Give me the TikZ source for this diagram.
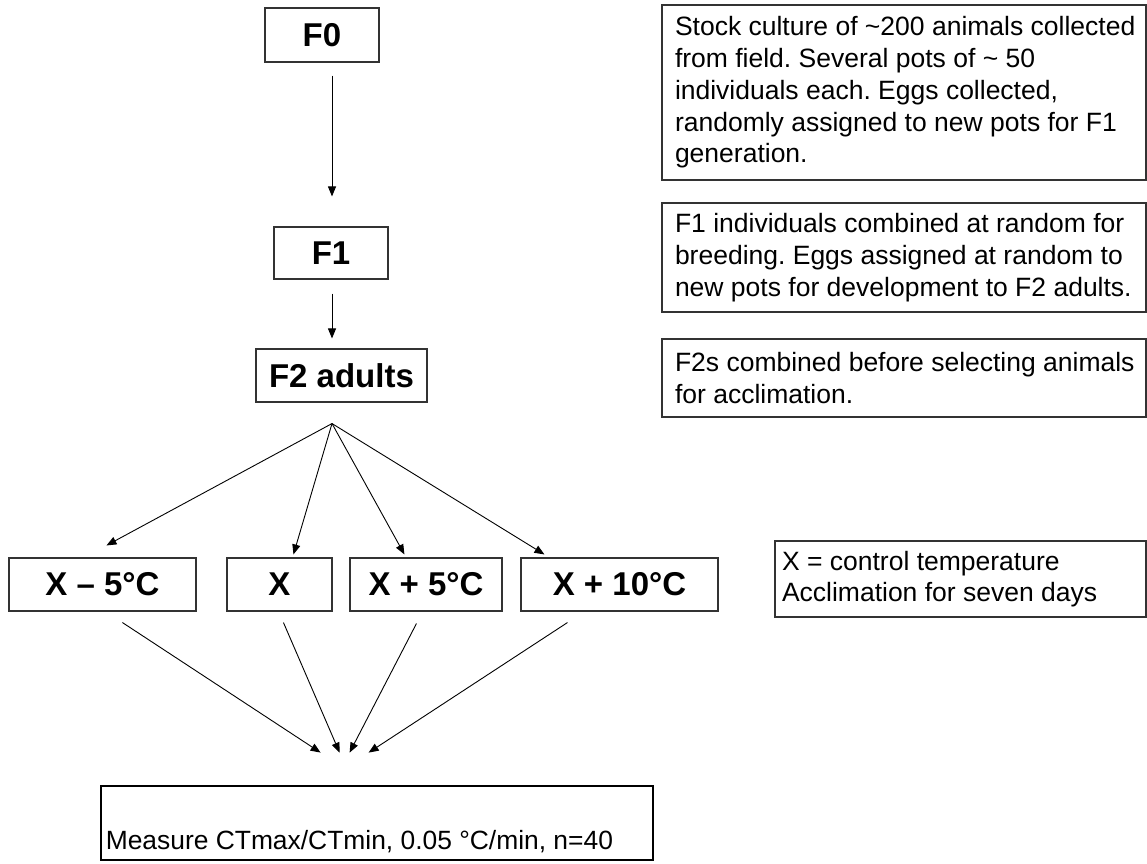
\documentclass[tikz,border=0pt]{standalone}
\usepackage{fontspec}
\setmainfont{Liberation Sans}
\usetikzlibrary{arrows.meta}
\frenchspacing
\tikzset{
  gen/.style={draw=black!80, line width=1.1pt, inner sep=0pt, font=\bfseries\fontsize{33}{38}\selectfont, minimum height=53pt},
  note/.style={draw=black!80, line width=1.1pt, inner sep=0pt, font=\fontsize{26.5}{31.7}\selectfont},
  arr/.style={line width=0.9pt, -{Triangle[length=10pt,width=8pt]}},
  measurebox/.style={draw=black, line width=2.8pt, inner sep=0pt},
}
\begin{document}
\begin{tikzpicture}[x={(1pt,0)}, y={(0,-1pt)}]
\useasboundingbox (0,0) rectangle (1147,863);
% generation boxes
\node[gen, minimum width=114pt, minimum height=54pt] (F0) at (322,35) {F0};
\node[gen, minimum width=114pt, minimum height=52pt] (F1) at (331,253) {F1};
\node[gen, minimum width=171pt] (F2) at (341.5,375.5) {F2 adults};
\coordinate (axis) at (332,0);
\coordinate (fan) at ([yshift=-21pt]F2.south -| axis);
% treatment boxes
\node[gen, minimum width=187pt] (Xm) at (102.5,584.5) {X -- 5°C};
\node[gen, minimum width=105pt] (X) at (279.5,584.5) {X};
\node[gen, minimum width=152pt] (Xp) at (426,584.5) {X + 5°C};
\node[gen, minimum width=197pt] (Xpp) at (619.5,584.5) {X + 10°C};
% measurement box
\node[measurebox, minimum width=552pt, minimum height=74pt] (M) at (377,823) {};
\node[anchor=base west, inner sep=0pt, font=\fontsize{26.4}{31.7}\selectfont] (Mtext) at ([xshift=6pt,yshift=12pt]M.south west) {Measure CTmax/CTmin, 0.05 °C/min, n=40};
% notes
\node[note, minimum width=484pt, minimum height=175pt] (R1) at (904,92.5) {\hspace*{13pt}\parbox{471pt}{Stock culture of \textasciitilde200 animals collected\\from field. Several pots of \textasciitilde{} 50\\individuals each. Eggs collected,\\randomly assigned to new pots for F1\\generation.}};
\node[note, minimum width=484pt, minimum height=109pt] (R2) at (904,257.5) {\hspace*{13pt}\parbox{471pt}{F1 individuals combined at random for\\breeding. Eggs assigned at random to\\new pots for development to F2 adults.}};
\node[note, minimum width=484pt, minimum height=78pt] (R3) at (904,378) {\hspace*{13pt}\parbox{471pt}{F2s combined before selecting animals\\for acclimation.}};
\node[note, minimum width=371pt, minimum height=76pt] (R4) at (960.5,579) {\hspace*{7pt}\parbox{364pt}{X = control temperature\\Acclimation for seven days}};
% vertical arrows
\draw[arr, shorten <=13pt, shorten >=30pt] (F0.south -| axis) -- (F1.north -| axis);
\draw[arr, shorten <=14pt, shorten >=10pt] (F1.south -| axis) -- (F2.north -| axis);
% fan out
\draw[arr] (fan) -- ([xshift=98pt,yshift=12pt]Xm.north west);
\draw[arr] (fan) -- ([xshift=67pt,yshift=3pt]X.north west);
\draw[arr] (fan) -- ([xshift=55pt,yshift=3pt]Xp.north west);
\draw[arr] (fan) -- ([xshift=24pt,yshift=3pt]Xpp.north west);
% fan in
\draw[arr] ([xshift=114pt,yshift=-11pt]Xm.south west) -- ([xshift=221pt,yshift=32pt]M.north west);
\draw[arr] ([xshift=57pt,yshift=-11pt]X.south west) -- ([xshift=240pt,yshift=32pt]M.north west);
\draw[arr] ([xshift=67pt,yshift=-12pt]Xp.south west) -- ([xshift=250pt,yshift=32pt]M.north west);
\draw[arr] ([xshift=47pt,yshift=-11pt]Xpp.south west) -- ([xshift=269pt,yshift=32pt]M.north west);
\end{tikzpicture}
\end{document}
